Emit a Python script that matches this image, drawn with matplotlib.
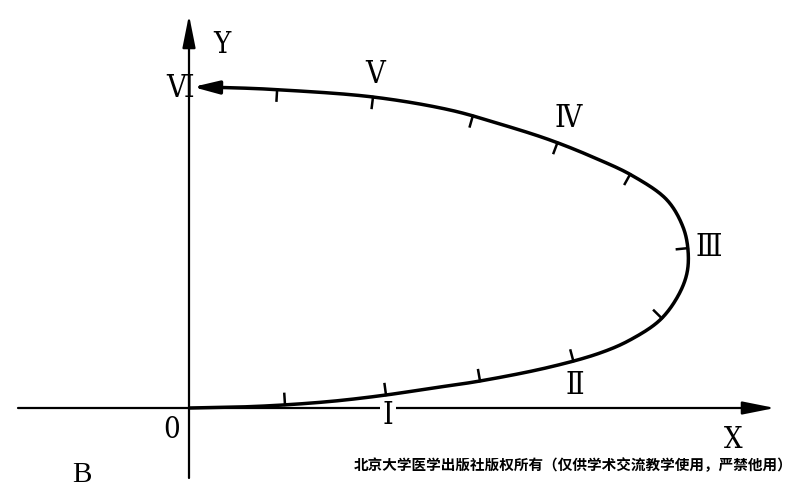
import numpy as np
import matplotlib
matplotlib.use("Agg")
import matplotlib.pyplot as plt

# ---- data (origin at the axes crossing, y up) ----
curve_x = [0, 50, 93, 145, 196, 243, 290, 360, 410, 440, 470, 488, 497,
           498, 493, 477, 443, 405, 360, 310, 260, 183, 93, 50, 5]
curve_y = [0, 1, 3, 7, 13, 20, 27, 41, 55, 68, 88, 112, 135,
           158, 181, 208, 232, 250, 268, 284, 298, 311, 318, 320, 321]

tick_x = [95, 196, 290, 382, 472, 498, 440, 368, 283, 183, 88]
tick_y = [3, 13, 27, 52, 90, 160, 232, 265, 293, 311, 318]

stage_labels = ["Ⅰ", "Ⅱ", "Ⅲ", "Ⅳ", "Ⅴ", "Ⅵ"]
stage_x = [198, 385, 519, 378, 185, -10]
stage_y = [-7, 23, 161, 290, 334, 320]

x_axis = [-172, 585]
y_axis = [-70, 393]


def catmull_rom(xs, ys, n=25, alpha=0.5):
    p = np.column_stack([xs, ys]).astype(float)
    p = np.vstack([2 * p[0] - p[1], p, 2 * p[-1] - p[-2]])
    out = []
    for i in range(1, len(p) - 2):
        p0, p1, p2, p3 = p[i - 1], p[i], p[i + 1], p[i + 2]
        t0 = 0.0
        t1 = t0 + np.hypot(*(p1 - p0)) ** alpha
        t2 = t1 + np.hypot(*(p2 - p1)) ** alpha
        t3 = t2 + np.hypot(*(p3 - p2)) ** alpha
        for t in np.linspace(t1, t2, n, endpoint=False):
            a1 = (t1 - t) / (t1 - t0) * p0 + (t - t0) / (t1 - t0) * p1
            a2 = (t2 - t) / (t2 - t1) * p1 + (t - t1) / (t2 - t1) * p2
            a3 = (t3 - t) / (t3 - t2) * p2 + (t - t2) / (t3 - t2) * p3
            b1 = (t2 - t) / (t2 - t0) * a1 + (t - t0) / (t2 - t0) * a2
            b2 = (t3 - t) / (t3 - t1) * a2 + (t - t1) / (t3 - t1) * a3
            out.append((t2 - t) / (t2 - t1) * b1 + (t - t1) / (t2 - t1) * b2)
    out.append(p[-2])
    return np.array(out)


fig = plt.figure(figsize=(8, 4.91), dpi=100)
ax = fig.add_axes([0, 0, 1, 1])
ax.set_xlim(-190, 610)
ax.set_ylim(-83, 408)
ax.axis("off")

serif = dict(family=["DejaVu Serif"], fontstretch="condensed")

# axes with arrows
for xy, xytext in [((x_axis[1], 0), (x_axis[0], 0)),
                   ((-1, y_axis[1]), (-1, y_axis[0]))]:
    ax.annotate("", xy=xy, xytext=xytext, zorder=1,
                arrowprops=dict(arrowstyle="-|>,head_length=1.1,head_width=0.22",
                                mutation_scale=18, lw=1.6, color="black",
                                shrinkA=0, shrinkB=0))

# curve
pts = catmull_rom(curve_x, curve_y)
ax.plot(pts[:-3, 0], pts[:-3, 1], color="black", lw=2.5,
        solid_capstyle="round", zorder=3)
ax.annotate("", xy=(pts[-1, 0] - 2, pts[-1, 1]), xytext=(pts[-14, 0], pts[-14, 1]),
            zorder=3,
            arrowprops=dict(arrowstyle="-|>,head_length=1.1,head_width=0.28",
                            mutation_scale=14, lw=2.5, color="black",
                            shrinkA=0, shrinkB=0))

# tick marks pointing to the inside of the curve
tick_len = 11
for tx, ty in zip(tick_x, tick_y):
    d = np.hypot(pts[:, 0] - tx, pts[:, 1] - ty)
    i = int(np.argmin(d))
    i0, i1 = max(i - 2, 0), min(i + 2, len(pts) - 1)
    tan = pts[i1] - pts[i0]
    tan = tan / np.hypot(*tan)
    nrm = np.array([-tan[1], tan[0]])
    base = pts[i]
    ax.plot([base[0], base[0] + nrm[0] * tick_len],
            [base[1], base[1] + nrm[1] * tick_len], color="black", lw=1.8,
            zorder=3)

# stage labels
for lab, sx, sy in zip(stage_labels, stage_x, stage_y):
    kw = {}
    if lab == "Ⅰ":
        kw["bbox"] = dict(boxstyle="square,pad=0.1", fc="white", ec="none")
    ax.text(sx, sy, lab, fontsize=22, ha="center", va="center", zorder=2,
            **serif, **kw)

ax.text(32, 363, "Y", fontsize=21, ha="center", va="center", **serif)
ax.text(543, -32, "X", fontsize=21, ha="center", va="center", **serif)
ax.text(-18, -22, "0", fontsize=21, ha="center", va="center", **serif)
ax.text(-108, -67, "B", fontsize=21, ha="center", va="center",
        family=["Liberation Serif", "DejaVu Serif"])
ax.text(383, -57, "北京大学医学出版社版权所有（仅供学术交流教学使用，严禁他用）",
        family=["Noto Sans CJK SC", "DejaVu Sans"], fontsize=10.5,
        fontweight="bold", ha="center", va="center")

fig.savefig("out.png", dpi=100)
